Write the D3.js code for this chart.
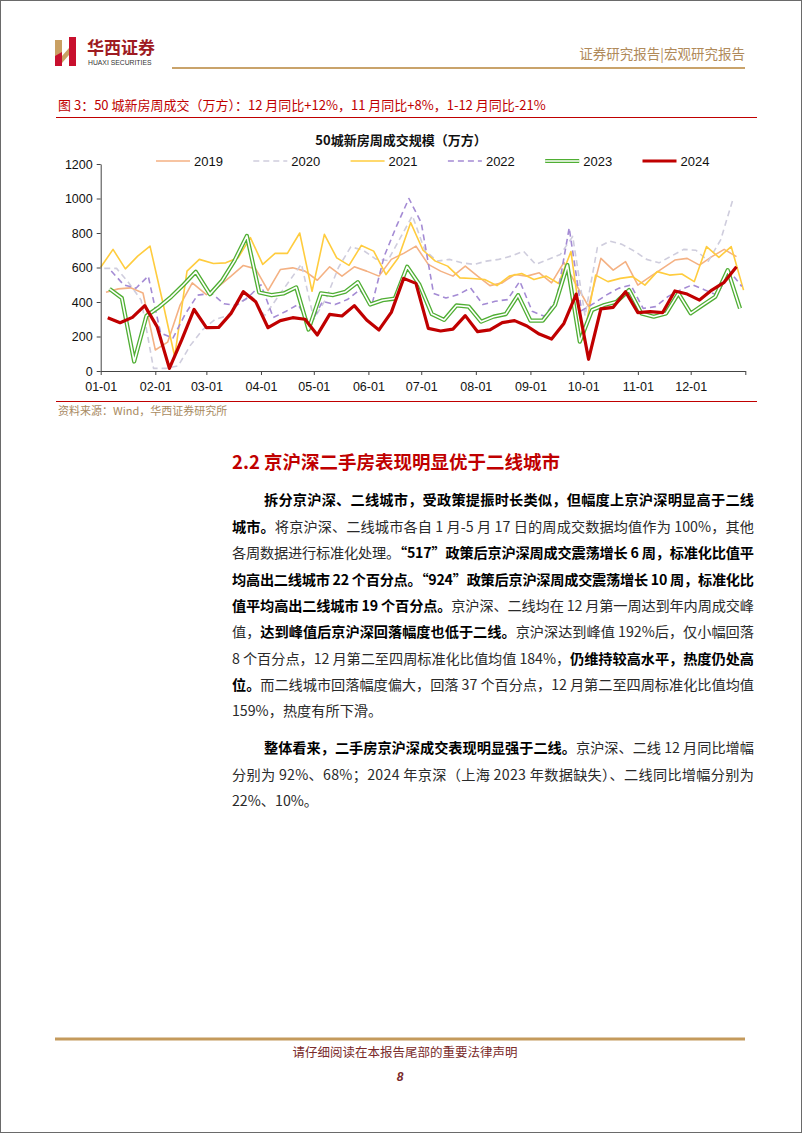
<!DOCTYPE html>
<html lang="zh">
<head>
<meta charset="UTF-8">
<title>50城新房周成交规模</title>
<script src="https://cdn.jsdelivr.net/npm/d3@7/dist/d3.min.js"></script>
<style>
  html, body { margin: 0; padding: 0; background: #fff; }
  svg { display: block; }
</style>
</head>
<body>
<svg id="page"></svg>
<script>
// 各年份周度数据（万方），每年以当年第一个周五为起点，逐周排列
const years = ['2019', '2020', '2021', '2022', '2023', '2024'];
const firstFriday = ['2019-01-04', '2020-01-03', '2021-01-01', '2022-01-07', '2023-01-06', '2024-01-05'];

const v2019 = [456,476,482,452,122,167,380,511,443,491,550,612,592,466,588,598,579,526,604,550,604,579,550,647,682,724,618,579,550,608,550,495,511,559,550,569,511,630,500,373,653,585,634,498,547,595,643,653,614,663,705,663];
const v2020 = [595,595,510,410,15,15,30,150,240,300,320,400,430,320,420,520,620,300,420,600,720,700,650,640,770,900,700,637,647,627,618,637,647,666,695,618,647,676,780,320,715,753,734,695,647,627,666,705,700,637,760,996];
const v2021 = [601,705,592,666,724,410,84,579,647,623,627,656,773,618,682,682,800,462,792,656,612,728,695,559,656,860,700,637,608,540,536,530,495,550,565,530,550,507,692,180,556,518,537,547,498,576,556,562,518,721,659,721,469];
const v2022 = [580,500,480,550,220,190,330,440,450,390,380,430,500,310,345,385,270,404,385,414,470,385,666,841,1000,860,450,423,443,482,385,404,414,520,346,317,420,830,350,392,440,479,498,363,373,431,469,500,470,440,580,490];
const v2023 = [476,423,55,320,370,430,500,575,445,525,640,783,455,440,450,485,240,450,440,460,515,385,410,420,605,500,330,296,380,373,286,315,330,440,292,292,383,614,170,354,383,402,469,334,315,334,450,334,383,431,585,363];
const v2024 = [309,280,311,379,257,15,180,357,251,253,334,460,402,251,292,309,300,209,328,319,379,296,238,340,537,508,247,232,243,321,228,238,280,292,261,214,185,276,446,68,360,369,460,338,344,338,464,446,411,469,514,605];

const yTicks = [0, 200, 400, 600, 800, 1000, 1200];
const values = [v2019, v2020, v2021, v2022, v2023, v2024];

const W = 802, H = 1133;
const svg = d3.select('#page').attr('width', W).attr('height', H);
const CJK = '"Noto Sans CJK SC", "Liberation Sans", sans-serif';
const LAT = '"Liberation Sans", Arial, sans-serif';

svg.append('rect').attr('x', 0.5).attr('y', 0.5).attr('width', W - 1).attr('height', H - 1)
    .attr('fill', '#fff').attr('stroke', '#6a6a6a');

// ---- 页眉 ----
const logo = svg.append('g');
logo.append('path').attr('d', 'M55,40 L62,40 L62,66 L55,66 Z').attr('fill', '#C8102E');
logo.append('path').attr('d', 'M69,37 L76,37 L76,66 L69,66 Z').attr('fill', '#C8102E');
logo.append('path').attr('d', 'M55,40 L62,40 L62,52 L55,56 Z').attr('fill', '#C9A063');
logo.append('path').attr('d', 'M62,56 L69,48 L69,55 L62,63 Z').attr('fill', '#C9A063');
svg.append('text').attr('x', 87).attr('y', 54).text('华西证券')
    .attr('font-family', CJK).attr('font-size', 17).attr('font-weight', 700).attr('fill', '#9E1B22');
svg.append('text').attr('x', 88).attr('y', 65).text('HUAXI SECURITIES')
    .attr('font-family', LAT).attr('font-size', 6.8).attr('fill', '#333');
svg.append('text').attr('x', 745).attr('y', 59).attr('text-anchor', 'end').text('证券研究报告|宏观研究报告')
    .attr('font-family', CJK).attr('font-size', 13.5).attr('fill', '#B08A5A');
svg.append('line').attr('x1', 172).attr('x2', 745).attr('y1', 68).attr('y2', 68)
    .attr('stroke', '#C9A36B').attr('stroke-width', 2);

// ---- 图表标题 ----
svg.append('text').attr('x', 58).attr('y', 110)
    .text('图 3：50 城新房周成交（万方）：12 月同比+12%，11 月同比+8%，1-12 月同比-21%')
    .attr('font-family', CJK).attr('font-size', 13).attr('fill', '#C00000');
svg.append('line').attr('x1', 56).attr('x2', 757).attr('y1', 117.5).attr('y2', 117.5)
    .attr('stroke', '#C00000').attr('stroke-width', 1);
svg.append('text').attr('x', 401).attr('y', 145).attr('text-anchor', 'middle')
    .text('50城新房周成交规模（万方）')
    .attr('font-family', CJK).attr('font-size', 13).attr('font-weight', 700).attr('fill', '#111');

// ---- 坐标 ----
const x = d3.scaleTime()
    .domain([new Date(2024, 0, 1), new Date(2025, 0, 1)])
    .range([100.7, 745.3]);
const y = d3.scaleLinear().domain([0, 1200]).range([371, 164]);

// 各年份日期映射到 2024 年的同月同日
function seriesPoints(i) {
    const start = d3.timeParse('%Y-%m-%d')(firstFriday[i]);
    return values[i].map((v, k) => {
        const d = d3.timeDay.offset(start, 7 * k);
        return { date: new Date(2024, d.getMonth(), d.getDate()), v: v };
    });
}

const line = d3.line().x(d => x(d.date)).y(d => y(d.v));

const styles = {
    '2019': { color: '#F4B183', width: 1.6 },
    '2020': { color: '#CFCDDD', width: 1.6, dash: '6,4' },
    '2021': { color: '#FFCC3E', width: 1.6 },
    '2022': { color: '#A48BD4', width: 1.6, dash: '6,4' },
    '2023': { color: '#4FAE33', width: 4.2, inner: 1.6 },
    '2024': { color: '#C00000', width: 3.2 }
};

const plot = svg.append('g');
years.forEach((yr, i) => {
    const s = styles[yr];
    const p = plot.append('path').datum(seriesPoints(i))
        .attr('d', line).attr('fill', 'none')
        .attr('stroke', s.color).attr('stroke-width', s.width)
        .attr('stroke-linejoin', 'round');
    if (s.dash) p.attr('stroke-dasharray', s.dash);
    if (s.inner) {
        plot.append('path').datum(seriesPoints(i))
            .attr('d', line).attr('fill', 'none')
            .attr('stroke', '#fff').attr('stroke-width', s.inner)
            .attr('stroke-linejoin', 'round');
    }
});

// 坐标轴
const monthTicks = d3.timeMonth.range(new Date(2024, 0, 1), new Date(2025, 0, 2));
const xAxis = svg.append('g').attr('transform', 'translate(0,371)')
    .call(d3.axisBottom(x).tickValues(monthTicks).tickSize(4).tickSizeOuter(0)
        .tickFormat(d => d.getFullYear() === 2024 ? d3.timeFormat('%m-%d')(d) : ''));
const yAxis = svg.append('g').attr('transform', 'translate(100.7,0)')
    .call(d3.axisLeft(y).tickValues(yTicks).tickSize(4).tickSizeOuter(0).tickFormat(d3.format('d')));
[xAxis, yAxis].forEach(a => {
    a.select('.domain').attr('stroke', '#444');
    a.selectAll('.tick line').attr('stroke', '#444');
    a.selectAll('text').attr('font-family', LAT).attr('font-size', 12.5).attr('fill', '#111');
});
xAxis.selectAll('text').attr('dy', '1.05em');
yAxis.selectAll('text').attr('x', -8);

// 图例
const legend = svg.append('g').attr('transform', 'translate(156,161)');
years.forEach((yr, i) => {
    const s = styles[yr];
    const g = legend.append('g').attr('transform', `translate(${i * 97.3},0)`);
    const l = g.append('line').attr('x1', 0).attr('x2', 34).attr('y1', 0).attr('y2', 0)
        .attr('stroke', s.color).attr('stroke-width', s.width);
    if (s.dash) l.attr('stroke-dasharray', s.dash);
    if (s.inner) g.append('line').attr('x1', 0).attr('x2', 34).attr('y1', 0).attr('y2', 0)
        .attr('stroke', '#fff').attr('stroke-width', s.inner);
    g.append('text').attr('x', 38).attr('y', 4.5).text(yr)
        .attr('font-family', LAT).attr('font-size', 13).attr('fill', '#111');
});

// 资料来源
svg.append('line').attr('x1', 56).attr('x2', 757).attr('y1', 401.5).attr('y2', 401.5)
    .attr('stroke', '#C00000').attr('stroke-width', 1);
svg.append('text').attr('x', 58).attr('y', 415).text('资料来源：Wind，华西证券研究所')
    .attr('font-family', CJK).attr('font-size', 11).attr('fill', '#A88A5F');

// ---- 正文 ----
svg.append('text').attr('x', 232).attr('y', 469).text('2.2 京沪深二手房表现明显优于二线城市')
    .attr('font-family', CJK).attr('font-size', 18.5).attr('font-weight', 700).attr('fill', '#C00000');

const bodyLines = [
    { y: 505, x0: 264, full: true, segs: [['b', '拆分京沪深、二线城市，受政策提振时长类似，但幅度上京沪深明显高于二线']] },
    { y: 532, x0: 232, full: true, segs: [['b', '城市。'], ['r', '将京沪深、二线城市各自 1 月-5 月 17 日的周成交数据均值作为 100%，其他']] },
    { y: 558, x0: 232, full: true, segs: [['r', '各周数据进行标准化处理。'], ['b', '“517”政策后京沪深周成交震荡增长 6 周，标准化比值平']] },
    { y: 585, x0: 232, full: true, segs: [['b', '均高出二线城市 22 个百分点。“924”政策后京沪深周成交震荡增长 10 周，标准化比']] },
    { y: 611, x0: 232, full: true, segs: [['b', '值平均高出二线城市 19 个百分点。'], ['r', '京沪深、二线均在 12 月第一周达到年内周成交峰']] },
    { y: 637, x0: 232, full: true, segs: [['r', '值，'], ['b', '达到峰值后京沪深回落幅度也低于二线。'], ['r', '京沪深达到峰值 192%后，仅小幅回落']] },
    { y: 664, x0: 232, full: true, segs: [['r', '8 个百分点，12 月第二至四周标准化比值均值 184%，'], ['b', '仍维持较高水平，热度仍处高']] },
    { y: 690, x0: 232, full: true, segs: [['b', '位。'], ['r', '而二线城市回落幅度偏大，回落 37 个百分点，12 月第二至四周标准化比值均值']] },
    { y: 716, x0: 232, full: false, segs: [['r', '159%，热度有所下滑。']] },
    { y: 753, x0: 264, full: true, segs: [['b', '整体看来，二手房京沪深成交表现明显强于二线。'], ['r', '京沪深、二线 12 月同比增幅']] },
    { y: 780, x0: 232, full: true, segs: [['r', '分别为 92%、68%；2024 年京深（上海 2023 年数据缺失）、二线同比增幅分别为']] },
    { y: 806, x0: 232, full: false, segs: [['r', '22%、10%。']] }
];
bodyLines.forEach(ln => {
    const t = svg.append('text').attr('x', ln.x0).attr('y', ln.y)
        .attr('font-family', CJK).attr('font-size', 14.2);
    ln.segs.forEach(s => {
        t.append('tspan').text(s[1])
            .attr('font-weight', s[0] === 'b' ? 700 : 400)
            .attr('fill', s[0] === 'b' ? '#000' : '#2a2a2a');
    });
    if (ln.full) t.attr('textLength', 754 - ln.x0).attr('lengthAdjust', 'spacing');
});

// ---- 页脚 ----
svg.append('line').attr('x1', 55).attr('x2', 745).attr('y1', 1039).attr('y2', 1039)
    .attr('stroke', '#C49A5C').attr('stroke-width', 3);
svg.append('text').attr('x', 405).attr('y', 1057).attr('text-anchor', 'middle')
    .text('请仔细阅读在本报告尾部的重要法律声明')
    .attr('font-family', CJK).attr('font-size', 12.5).attr('fill', '#7A2A2A');
svg.append('text').attr('x', 400).attr('y', 1081).attr('text-anchor', 'middle').text('8')
    .attr('font-family', LAT).attr('font-size', 12).attr('font-weight', 700)
    .attr('font-style', 'italic').attr('fill', '#7A2A2A');
</script>
</body>
</html>
